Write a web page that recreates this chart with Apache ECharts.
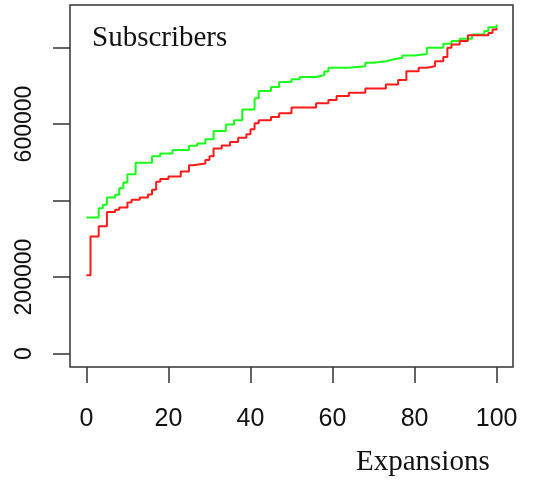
<!DOCTYPE html>
<html>
<head>
<meta charset="utf-8">
<script src="https://cdn.jsdelivr.net/npm/echarts@6/dist/echarts.min.js"></script>
<style>
  html, body { margin: 0; padding: 0; background: #fff; }
  #chart { width: 543px; height: 482px; }
</style>
</head>
<body>
<div id="chart"></div>
<script>
  // step curves (x = expansions, y = subscribers)
  var redX = [0, 1, 3, 5, 7, 8, 10, 11, 13, 15, 16, 17, 18, 20, 23, 25, 26, 29, 30, 31, 33, 35, 37, 39, 40,
    41, 42, 45, 47, 50, 56, 59, 61, 64, 68, 73, 76, 78, 81, 83, 85, 87, 88, 89, 91, 93, 98, 99, 100];
  var redY = [205000, 306000, 333000, 370000, 376000, 382000, 395000, 402000, 408000, 416000, 428000, 449000,
    456000, 463000, 476000, 492000, 497000, 506000, 516000, 536000, 544000, 553000, 564000, 573000, 586000,
    602000, 610000, 618000, 628000, 643000, 654000, 663000, 673000, 682000, 693000, 703000, 715000, 738000,
    747000, 751000, 764000, 775000, 799000, 808000, 817000, 832000, 838000, 847000, 851000];

  var greenX = [0, 3, 4, 5, 7, 8, 9, 10, 12, 16, 18, 21, 25, 27, 29, 31, 34, 36, 38, 41, 42, 45, 47, 50, 52,
    56, 58, 59, 64, 68, 70, 73, 75, 77, 80, 83, 87, 89, 91, 94, 97, 98, 100];
  var greenY = [356000, 380000, 389000, 408000, 415000, 432000, 447000, 469000, 499000, 516000, 523000, 532000,
    543000, 549000, 560000, 582000, 599000, 610000, 638000, 667000, 686000, 697000, 710000, 717000, 723000,
    728000, 737000, 747000, 751000, 760000, 764000, 769000, 773000, 779000, 783000, 799000, 810000, 817000,
    823000, 834000, 843000, 853000, 860000];

  var xTicks = [0, 20, 40, 60, 80, 100];
  var yTicks = [0, 200000, 400000, 600000, 800000];
  var yLabels = [0, 200000, 600000];

  function pairs(xs, ys) {
    return xs.map(function (x, i) { return [x, ys[i]]; });
  }

  var chart = echarts.init(document.getElementById('chart'));
  var option = {
    backgroundColor: '#fff',
    animation: false,
    grid: {
      left: 70, right: 30, top: 5, bottom: 115,
      show: true, borderColor: '#333', borderWidth: 1.5, backgroundColor: 'transparent'
    },
    xAxis: {
      type: 'value',
      min: -4, max: 104,
      axisLine: { show: false, onZero: false },
      splitLine: { show: false },
      axisTick: {
        show: true, length: 16, inside: false, customValues: xTicks,
        lineStyle: { color: '#333', width: 1.5 }
      },
      axisLabel: {
        customValues: xTicks, margin: 40,
        color: '#111', fontFamily: 'Liberation Sans', fontSize: 25
      }
    },
    yAxis: {
      type: 'value',
      min: -35000, max: 911000,
      axisLine: { show: false, onZero: false },
      splitLine: { show: false },
      axisTick: {
        show: true, length: 17, inside: false, customValues: yTicks,
        lineStyle: { color: '#333', width: 1.5 }
      },
      axisLabel: {
        customValues: yLabels, rotate: 90, margin: 34,
        color: '#111', fontFamily: 'Liberation Sans', fontSize: 23,
        formatter: function (v) { return String(v); }
      }
    },
    graphic: [
      {
        type: 'text', left: 92, top: 24,
        style: { text: 'Subscribers', font: '29px "Liberation Serif"', fill: '#111' }
      },
      {
        type: 'text', left: 356, top: 448,
        style: { text: 'Expansions', font: '29px "Liberation Serif"', fill: '#111' }
      }
    ],
    series: [
      {
        name: 'green', type: 'line', step: 'end', showSymbol: false,
        data: pairs(greenX, greenY),
        lineStyle: { color: '#1aff1a', width: 2 }
      },
      {
        name: 'red', type: 'line', step: 'end', showSymbol: false,
        data: pairs(redX, redY),
        lineStyle: { color: '#ff1a1a', width: 2 }
      }
    ]
  };
  chart.setOption(option);
</script>
</body>
</html>
